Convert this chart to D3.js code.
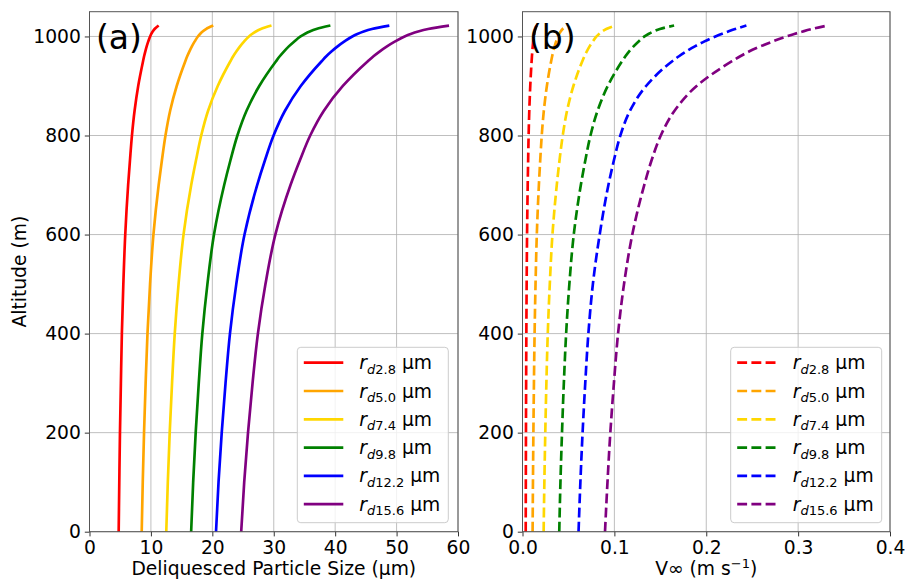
<!DOCTYPE html>
<html>
<head>
<meta charset="utf-8">
<script src="https://cdn.jsdelivr.net/npm/d3@7"></script>
<style>
  html, body { margin: 0; padding: 0; background: #ffffff; }
  svg { display: block; font-family: "DejaVu Sans", sans-serif; }
</style>
</head>
<body>
<svg id="chart" width="908" height="580"></svg>
<script>
// ---------------- DATA ----------------
const altitudes = [0, 100, 200, 300, 400, 500, 600, 700, 750, 800, 850, 900, 950, 960, 970, 980, 990, 1000, 1005, 1010, 1015, 1022];

const seriesLabels = ["2.8", "5.0", "7.4", "9.8", "12.2", "15.6"];
const seriesColors = ["red", "orange", "gold", "green", "blue", "purple"];

// Panel (a): deliquesced particle size (µm)
const size_rd28  = [4.75, 4.85, 4.96, 5.11, 5.27, 5.51, 5.82, 6.29, 6.59, 6.91, 7.34, 7.93, 8.72, 8.89, 9.09, 9.31, 9.57, 9.87, 10.06, 10.29, 10.6, 11.26];
const size_rd50  = [8.5, 8.67, 8.88, 9.14, 9.44, 9.86, 10.41, 11.26, 11.79, 12.37, 13.13, 14.2, 15.6, 15.91, 16.27, 16.67, 17.13, 17.65, 18.0, 18.42, 18.97, 20.15];
const size_rd74  = [12.5, 12.75, 13.06, 13.44, 13.88, 14.5, 15.31, 16.56, 17.34, 18.19, 19.31, 20.88, 22.94, 23.4, 23.93, 24.51, 25.19, 25.96, 26.46, 27.09, 27.9, 29.63];
const size_rd98  = [16.55, 16.88, 17.29, 17.79, 18.37, 19.2, 20.27, 21.93, 22.95, 24.08, 25.57, 27.64, 30.37, 30.98, 31.68, 32.45, 33.35, 34.37, 35.04, 35.86, 36.94, 39.22];
const size_rd122 = [20.6, 21.01, 21.53, 22.15, 22.87, 23.9, 25.24, 27.3, 28.57, 29.97, 31.83, 34.4, 37.8, 38.56, 39.43, 40.4, 41.51, 42.79, 43.61, 44.64, 45.98, 48.82];
const size_rd156 = [24.7, 25.19, 25.81, 26.55, 27.42, 28.65, 30.26, 32.73, 34.26, 35.94, 38.16, 41.25, 45.32, 46.24, 47.28, 48.44, 49.77, 51.3, 52.29, 53.52, 55.13, 58.54];

// Panel (b): terminal velocity V∞ (m s^-1)
const vel_rd28  = [0.0035, 0.00362, 0.00377, 0.00396, 0.00419, 0.00452, 0.00496, 0.00567, 0.00614, 0.00666, 0.00739, 0.00844, 0.00992, 0.01027, 0.01067, 0.01112, 0.01165, 0.01228, 0.01269, 0.0132, 0.01389, 0.0154];
const vel_rd50  = [0.011, 0.01138, 0.01186, 0.01245, 0.01316, 0.01419, 0.01558, 0.01783, 0.01929, 0.02094, 0.02322, 0.02653, 0.03119, 0.03228, 0.03354, 0.03497, 0.03663, 0.03859, 0.03988, 0.04151, 0.04369, 0.0486];
const vel_rd74  = [0.023, 0.0238, 0.0248, 0.026, 0.0275, 0.0297, 0.0326, 0.0373, 0.0403, 0.0438, 0.0485, 0.0554, 0.0651, 0.0674, 0.070, 0.073, 0.0765, 0.0806, 0.0833, 0.0867, 0.0912, 0.101];
const vel_rd98  = [0.040, 0.0413, 0.043, 0.045, 0.0475, 0.051, 0.0558, 0.0635, 0.0684, 0.074, 0.0817, 0.0928, 0.1084, 0.112, 0.1161, 0.1209, 0.1264, 0.1328, 0.1371, 0.1424, 0.1495, 0.165];
const vel_rd122 = [0.061, 0.063, 0.0654, 0.0683, 0.0717, 0.0766, 0.084, 0.0935, 0.0995, 0.1065, 0.117, 0.1345, 0.163, 0.1703, 0.1784, 0.1876, 0.1981, 0.210, 0.2166, 0.2239, 0.2315, 0.2437];
const vel_rd156 = [0.0898, 0.0925, 0.0956, 0.0995, 0.104, 0.1105, 0.1195, 0.1325, 0.1405, 0.1505, 0.1655, 0.1895, 0.228, 0.237, 0.247, 0.259, 0.2725, 0.2875, 0.2958, 0.305, 0.315, 0.332];

const sizeSeries = [size_rd28, size_rd50, size_rd74, size_rd98, size_rd122, size_rd156];
const velSeries  = [vel_rd28, vel_rd50, vel_rd74, vel_rd98, vel_rd122, vel_rd156];

const yTicks = [0, 200, 400, 600, 800, 1000];
const xTicksA = [0, 10, 20, 30, 40, 50, 60];
const xTicksB = [0.0, 0.1, 0.2, 0.3, 0.4];

// ---------------- DRAW ----------------
const svg = d3.select("#chart");
const FS = 18.7;
const plotTop = 11.7, plotBottom = 531.7;
const yScale = d3.scaleLinear().domain([0, 1050]).range([plotBottom, plotTop]);

function panel(opts) {
  const g = svg.append("g");
  const x = d3.scaleLinear().domain(opts.xDomain).range(opts.xRange);
  const [x0, x1] = opts.xRange;

  // grid
  g.append("g").selectAll("line").data(opts.xTicks).join("line")
    .attr("x1", d => x(d)).attr("x2", d => x(d))
    .attr("y1", plotTop).attr("y2", plotBottom)
    .attr("stroke", "#b0b0b0").attr("stroke-width", 1).attr("opacity", 0.8);
  g.append("g").selectAll("line").data(yTicks).join("line")
    .attr("x1", x0).attr("x2", x1)
    .attr("y1", d => yScale(d)).attr("y2", d => yScale(d))
    .attr("stroke", "#b0b0b0").attr("stroke-width", 1).attr("opacity", 0.8);

  // lines
  const line = d3.line()
    .x(d => x(d[0])).y(d => yScale(d[1]))
    .curve(d3.curveMonotoneY);
  opts.series.forEach((vals, i) => {
    const pts = vals.map((v, k) => [v, altitudes[k]]);
    g.append("path").datum(pts)
      .attr("d", line)
      .attr("fill", "none")
      .attr("stroke", seriesColors[i])
      .attr("stroke-width", 2.67)
      .attr("stroke-dasharray", opts.dashed ? "9.9,4.3" : null);
  });

  // axes
  const xAxis = d3.axisBottom(x).tickValues(opts.xTicks).tickSize(4.7).tickPadding(4)
    .tickFormat(opts.xFormat);
  const yAxis = d3.axisLeft(yScale).tickValues(yTicks).tickSize(4.7).tickPadding(4)
    .tickFormat(d3.format("d"));
  const gx = g.append("g").attr("transform", `translate(0,${plotBottom})`).call(xAxis);
  const gy = g.append("g").attr("transform", `translate(${x0},0)`).call(yAxis);
  [gx, gy].forEach(ax => {
    ax.select(".domain").remove();
    ax.selectAll(".tick line").attr("stroke", "#333").attr("stroke-width", 1);
    ax.selectAll(".tick text").attr("fill", "#000").style("font-size", FS + "px")
      .style("font-family", "DejaVu Sans");
  });

  // frame
  g.append("rect").attr("x", x0).attr("y", plotTop)
    .attr("width", x1 - x0).attr("height", plotBottom - plotTop)
    .attr("fill", "none").attr("stroke", "#555").attr("stroke-width", 1);

  // panel label
  g.append("text").attr("x", x0 + 6.5).attr("y", 49)
    .style("font-size", "33px").attr("fill", "#000").text(opts.tag);

  // x label
  const xl = g.append("text").attr("x", (x0 + x1) / 2).attr("y", 575)
    .attr("text-anchor", "middle").style("font-size", FS + "px").attr("fill", "#000");
  opts.xLabel(xl);

  // legend
  const lg = g.append("g");
  const lx = opts.legendX, ly = 347.3, lw = 151, lh = 175.4;
  lg.append("rect").attr("x", lx).attr("y", ly).attr("width", lw).attr("height", lh)
    .attr("rx", 3.5).attr("fill", "#ffffff").attr("fill-opacity", 0.8)
    .attr("stroke", "#cccccc").attr("stroke-width", 1);
  seriesLabels.forEach((lab, i) => {
    const yy = ly + 15.4 + i * 28.3;
    lg.append("line").attr("x1", lx + 6.5).attr("x2", lx + 46)
      .attr("y1", yy).attr("y2", yy)
      .attr("stroke", seriesColors[i]).attr("stroke-width", 2.67)
      .attr("stroke-dasharray", opts.dashed ? "9.9,4.3" : null);
    const t = lg.append("text").attr("x", lx + 62).attr("y", yy + 6.5)
      .style("font-size", FS + "px").attr("fill", "#000");
    t.append("tspan").style("font-style", "italic").text("r");
    t.append("tspan").attr("dy", 4.5).style("font-size", "13px").style("font-style", "italic").text("d");
    t.append("tspan").style("font-size", "13px").text(lab);
    t.append("tspan").attr("dy", -4.5).text(" µm");
  });
}

panel({
  xDomain: [0, 60], xRange: [89.5, 458], xTicks: xTicksA, xFormat: d3.format("d"),
  series: sizeSeries, dashed: false, tag: "(a)", legendX: 297.3,
  xLabel: t => t.text("Deliquesced Particle Size (µm)")
});

panel({
  xDomain: [0, 0.4], xRange: [522.5, 890], xTicks: xTicksB, xFormat: d3.format(".1f"),
  series: velSeries, dashed: true, tag: "(b)", legendX: 730.7,
  xLabel: t => {
    t.append("tspan").text("V∞ (m s");
    t.append("tspan").attr("dy", -7).style("font-size", "13px").text("−1");
    t.append("tspan").attr("dy", 7).text(")");
  }
});

// y axis label (left panel only)
svg.append("text")
  .attr("transform", `translate(26,${(plotTop + plotBottom) / 2}) rotate(-90)`)
  .attr("text-anchor", "middle").style("font-size", FS + "px").attr("fill", "#000")
  .text("Altitude (m)");
</script>
</body>
</html>
